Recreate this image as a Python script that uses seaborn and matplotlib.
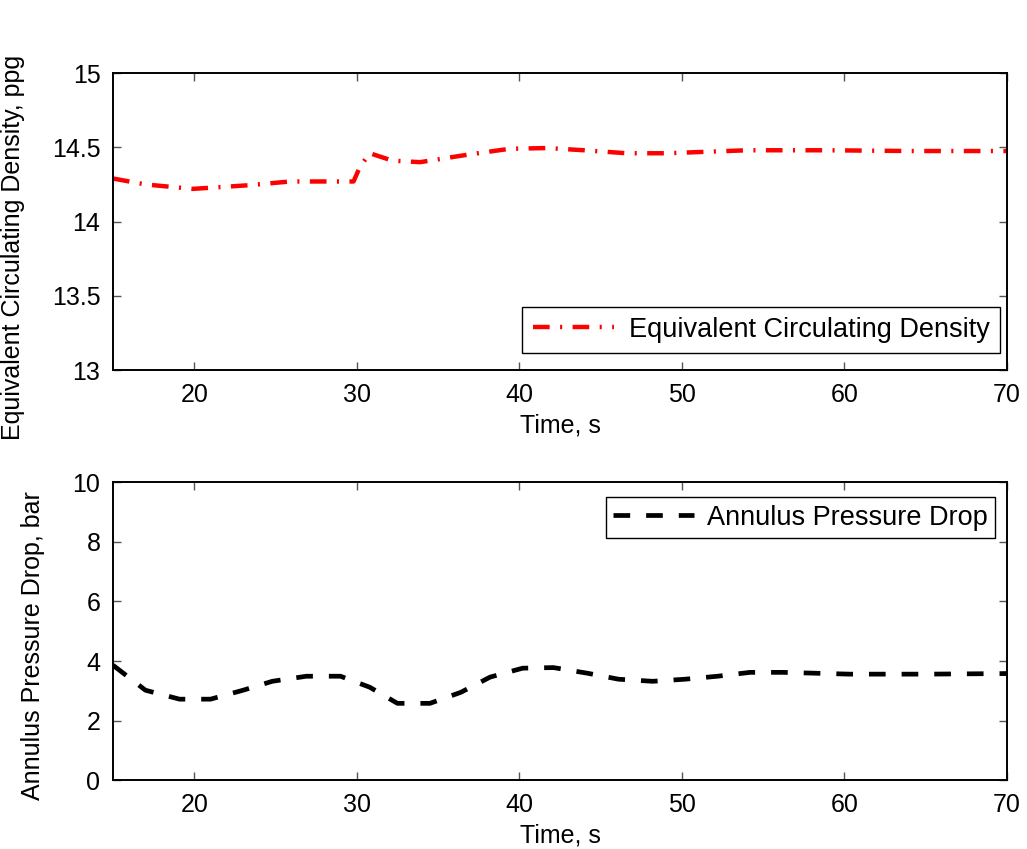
import matplotlib
matplotlib.use("Agg")
import matplotlib.pyplot as plt
import seaborn as sns
import pandas as pd

# values
ecd_time = [15, 17, 19.9, 23.4, 25.9, 29.2, 29.8, 30.2, 30.8, 32.2, 33.9,
            36.8, 39.4, 41.7, 44, 46.6, 49.1, 54.0, 58.9, 64, 70]
ecd_value = [14.29, 14.25, 14.22, 14.245, 14.27, 14.27, 14.27, 14.37, 14.46, 14.41, 14.40,
             14.45, 14.49, 14.495, 14.48, 14.46, 14.46, 14.48, 14.48, 14.475, 14.475]

apd_time = [15, 17, 19.1, 21, 23, 24.8, 26.9, 29, 30.8, 32.5, 34.5, 36.4, 38.2,
            40.2, 42.1, 44.2, 46.1, 48.2, 50.2, 52.2, 54.2, 56.2, 58.3, 60.3, 65, 70]
apd_value = [3.86, 3.02, 2.72, 2.72, 3.02, 3.32, 3.49, 3.49, 3.12, 2.58, 2.58, 2.95, 3.46,
             3.76, 3.78, 3.59, 3.39, 3.32, 3.39, 3.49, 3.62, 3.62, 3.59, 3.56, 3.56, 3.58]

ecd = pd.DataFrame({"t": ecd_time, "v": ecd_value})
apd = pd.DataFrame({"t": apd_time, "v": apd_value})

sns.set_theme(style="white")
plt.rcParams['font.family'] = ['Liberation Sans', 'DejaVu Sans']
plt.rcParams['lines.scale_dashes'] = False
plt.rcParams['text.color'] = 'black'
plt.rcParams['axes.labelcolor'] = 'black'
fs = 18

fig = plt.figure(figsize=(10.27, 8.49), dpi=100)
ax1 = fig.add_axes([0.110, 0.564, 0.8705, 0.350])
ax2 = fig.add_axes([0.110, 0.081, 0.8705, 0.351])

sns.lineplot(data=ecd, x="t", y="v", ax=ax1, color="#ff0000", linewidth=3.2,
             linestyle=(0, (12, 7.5, 1.5, 7.5)), label="Equivalent Circulating Density")
sns.lineplot(data=apd, x="t", y="v", ax=ax2, color="black", linewidth=3.4,
             linestyle=(0, (12, 11.5)), label="Annulus Pressure Drop")

ax1.set_xlim(15, 70)
ax1.set_ylim(13, 15)
ax1.set_yticks([13, 13.5, 14, 14.5, 15])
ax1.set_yticklabels(["13", "13.5", "14", "14.5", "15"])
ax2.set_xlim(15, 70)
ax2.set_ylim(0, 10)
ax2.set_yticks([0, 2, 4, 6, 8, 10])

for ax in (ax1, ax2):
    ax.set_xticks([20, 30, 40, 50, 60, 70])
    ax.set_xlabel("Time, s", fontsize=fs)
    ax.tick_params(direction="in", length=6, width=1,
                   top=True, right=True, bottom=True, left=True,
                   labelsize=fs, pad=9, labelcolor="black", color="#555555")
    for s in ax.spines.values():
        s.set_color("black")
        s.set_linewidth(1.4)
    ax.xaxis.set_label_coords(0.5, -0.145)

ax1.set_ylabel("Equivalent Circulating Density, ppg", fontsize=fs)
ax1.yaxis.set_label_coords(-0.098, 0.414)
ax2.set_ylabel("Annulus Pressure Drop, bar", fontsize=fs)
ax2.yaxis.set_label_coords(-0.076, 0.453)

leg1 = ax1.legend(loc="lower right", bbox_to_anchor=(0.992, 0.057), borderaxespad=0,
                  fontsize=19.5, handlelength=3.0, fancybox=False, framealpha=1,
                  borderpad=0.38, handletextpad=0.55)
leg1.get_frame().set_edgecolor("black")
leg1.get_frame().set_linewidth(1)
leg2 = ax2.legend(loc="upper right", bbox_to_anchor=(0.9866, 0.95), borderaxespad=0,
                  fontsize=19.5, handlelength=3.0, fancybox=False, framealpha=1,
                  borderpad=0.28, handletextpad=0.45)
leg2.get_frame().set_edgecolor("black")
leg2.get_frame().set_linewidth(1)

fig.savefig("out.png", dpi=100)
